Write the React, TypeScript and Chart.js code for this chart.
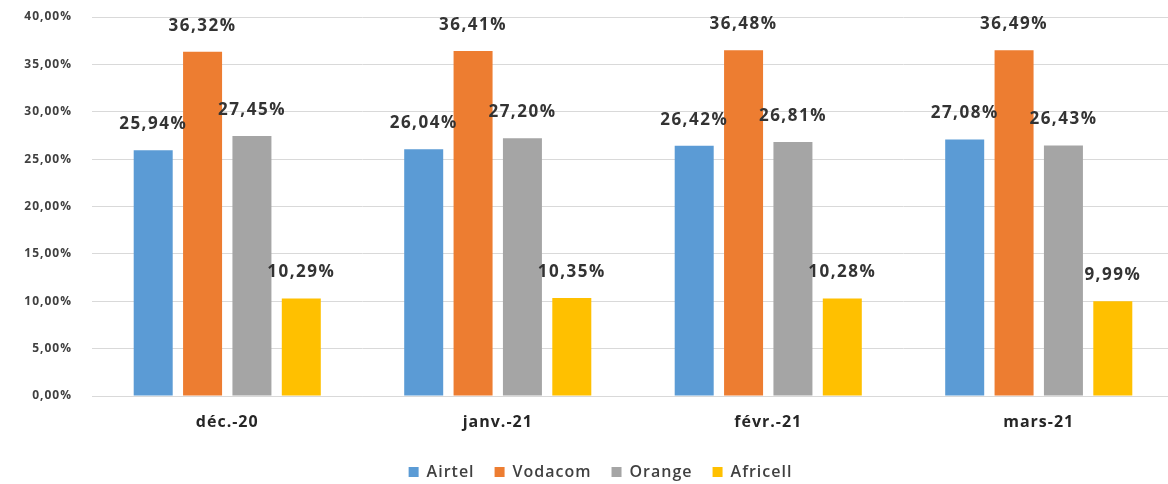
import React, { useEffect, useRef } from "react";
import { Chart, registerables } from "chart.js";

Chart.register(...registerables);

const categories = ["déc.-20", "janv.-21", "févr.-21", "mars-21"];
const airtel = [0.2594, 0.2604, 0.2642, 0.2708];
const vodacom = [0.3632, 0.3641, 0.3648, 0.3649];
const orange = [0.2745, 0.272, 0.2681, 0.2643];
const africell = [0.1029, 0.1035, 0.1028, 0.0999];
const yTicks = [0, 0.05, 0.1, 0.15, 0.2, 0.25, 0.3, 0.35, 0.4];

const fmt = (v: number) => (v * 100).toFixed(2).replace(".", ",") + "%";
const FONT = "'Open Sans', 'Noto Sans', sans-serif";

const spacingPlugin = {
  id: "spacing",
  beforeInit(chart: any) {
    const lg = chart.legend;
    if (lg) {
      const orig = lg.fit;
      lg.fit = function () {
        orig.call(this);
        this.height = 40;
      };
    }
  },
  beforeDraw(chart: any) {
    chart.ctx.letterSpacing = "1px";
  },
  afterDatasetsDraw(chart: any) {
    const ctx = chart.ctx;
    ctx.save();
    ctx.font = `bold 17px ${FONT}`;
    ctx.letterSpacing = "1.5px";
    ctx.fillStyle = "#333333";
    ctx.textAlign = "center";
    ctx.textBaseline = "middle";
    chart.data.datasets.forEach((ds: any, i: number) => {
      const meta = chart.getDatasetMeta(i);
      meta.data.forEach((el: any, j: number) => {
        ctx.fillText(fmt(ds.data[j]), el.x, el.y - 26);
      });
    });
    ctx.restore();
  },
};

export default function App() {
  const ref = useRef<HTMLCanvasElement>(null);
  useEffect(() => {
    document.body.style.margin = "0";
    const chart = new Chart(ref.current!, {
      type: "bar",
      data: {
        labels: categories,
        datasets: [
          { label: "Airtel", data: airtel, backgroundColor: "#5B9BD5" },
          { label: "Vodacom", data: vodacom, backgroundColor: "#ED7D31" },
          { label: "Orange", data: orange, backgroundColor: "#A5A5A5" },
          { label: "Africell", data: africell, backgroundColor: "#FFC000" },
        ],
      },
      options: {
        responsive: false,
        animation: false,
        maintainAspectRatio: false,
        layout: { padding: { top: 17, right: 0, left: 0, bottom: 0 } },
        datasets: { bar: { categoryPercentage: 0.73, barPercentage: 0.79 } },
        plugins: {
          tooltip: { enabled: false },
          legend: {
            position: "bottom",
            labels: {
              boxWidth: 10,
              boxHeight: 10,
              padding: 20,
              color: "#404040",
              font: { family: FONT, size: 16, weight: "600" },
            },
          },
        },
        scales: {
          x: {
            grid: { display: false },
            border: { color: "#D9D9D9" },
            ticks: {
              color: "#262626",
              padding: 9,
              font: { family: FONT, size: 16, weight: "bold" },
            },
            afterFit: (s: any) => {
              s.height = 48;
            },
          },
          y: {
            min: 0,
            max: 0.4,
            afterBuildTicks: (s: any) => {
              s.ticks = yTicks.map((v) => ({ value: v }));
            },
            grid: {
              color: "#D9D9D9",
              drawTicks: true,
              tickLength: 17,
              tickColor: "rgba(0,0,0,0)",
            },
            border: { display: false },
            ticks: {
              color: "#404040",
              padding: 3,
              font: { family: FONT, size: 12, weight: "bold" },
              callback: (v: any) => fmt(Number(v)),
            },
            afterFit: (s: any) => {
              s.width = 92;
            },
          },
        },
      },
      plugins: [spacingPlugin],
    });
    return () => chart.destroy();
  }, []);
  return (
    <div style={{ width: 1168, height: 484, overflow: "hidden" }}>
      <canvas ref={ref} width={1174} height={484} style={{ display: "block" }} />
    </div>
  );
}
